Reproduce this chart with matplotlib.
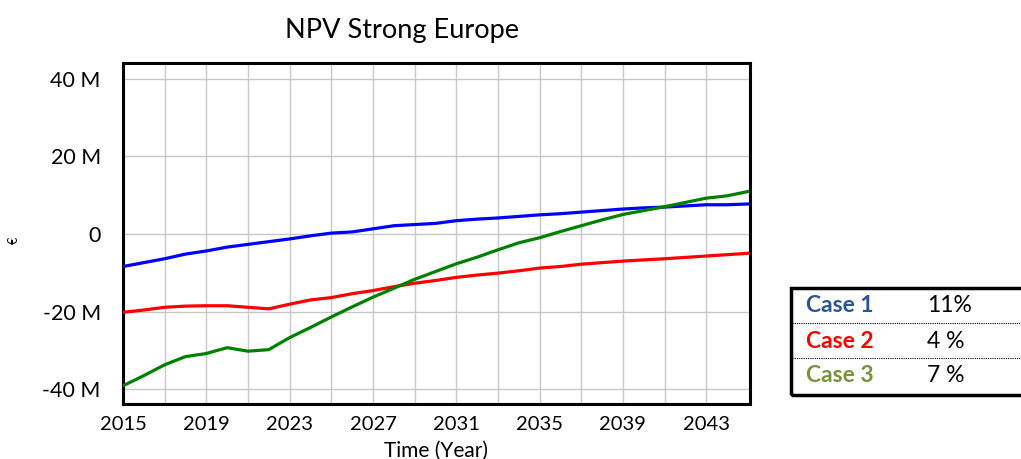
import matplotlib
matplotlib.use("Agg")
import matplotlib.pyplot as plt
from matplotlib.lines import Line2D
from matplotlib.patches import Rectangle
import numpy as np

plt.rcParams['font.family'] = ['Lato', 'DejaVu Sans']

years = list(range(2015, 2046))
case1 = [-8.4, -7.4, -6.4, -5.2, -4.4, -3.4, -2.7, -2.0, -1.3, -0.5, 0.2, 0.5, 1.3, 2.1, 2.4, 2.7,
         3.4, 3.8, 4.1, 4.5, 4.9, 5.2, 5.6, 6.0, 6.4, 6.7, 6.9, 7.2, 7.5, 7.5, 7.7]
case2 = [-20.2, -19.6, -18.9, -18.6, -18.5, -18.5, -18.9, -19.3, -18.1, -17.0, -16.4, -15.4, -14.6,
         -13.6, -12.7, -12.0, -11.2, -10.6, -10.1, -9.5, -8.8, -8.4, -7.8, -7.4, -7.0, -6.7, -6.4,
         -6.05, -5.7, -5.35, -5.0]
case3 = [-39.1, -36.5, -33.7, -31.6, -30.8, -29.3, -30.2, -29.8, -26.7, -24.1, -21.4, -18.8, -16.3,
         -14.0, -11.7, -9.7, -7.7, -6.0, -4.1, -2.3, -1.0, 0.6, 2.1, 3.6, 5.0, 6.0, 7.0, 8.1, 9.2,
         9.8, 10.9]
yticks = [-40, -20, 0, 20, 40]
ytick_labels = ['-40 M', '-20 M', '0', '20 M', '40 M']
xticks = [2015, 2019, 2023, 2027, 2031, 2035, 2039, 2043]

table_cases = ['Case 1', 'Case 2', 'Case 3']
table_values = ['11%', '4 %', '7 %']
table_colors = ['#2B5592', '#FF0000', '#77933C']

fig = plt.figure(figsize=(10.21, 4.59), dpi=100)
ax = fig.add_axes([123/1021, 1-404/459, (750-123)/1021, (404-63)/459])

ax.plot(years, case1, color='#0000FF', lw=2.3, zorder=3)
ax.plot(years, case2, color='#FF0000', lw=2.3, zorder=3)
ax.plot(years, case3, color='#008000', lw=2.3, zorder=3)

ax.set_xlim(2015, 2045.1)
ax.set_ylim(-43.8, 44.0)
ax.set_yticks(yticks)
ax.set_yticklabels(ytick_labels)
ax.set_xticks(xticks)
ax.set_xticks(list(range(2017, 2045, 2)), minor=True)
ax.tick_params(axis='both', which='both', length=0, labelsize=14.5)
ax.tick_params(axis='y', pad=16, labelsize=15.5)
ax.tick_params(axis='x', pad=9)
ax.grid(True, which='both', color='#C8C8C8', lw=1.0)
ax.set_axisbelow(True)
for s in ax.spines.values():
    s.set_linewidth(2.2)
    s.set_color('black')

def fx(px):
    return px / 1021
def fy(py):
    return 1 - py / 459

fig.text(fx(402), fy(38), 'NPV Strong Europe', fontsize=19.5, ha='center', va='baseline')
fig.text(fx(436), fy(441), 'Time (Year)', fontsize=15, ha='center', va='top')
fig.text(fx(14), fy(240), '€', fontsize=9, ha='center', va='center', rotation=90)

# table box
fig.add_artist(Rectangle((fx(791), fy(395)), fx(1040) - fx(791), fy(288) - fy(395),
                         transform=fig.transFigure, fill=False, lw=2.5, edgecolor='black'))
for yy in [322.5, 357.5]:
    fig.add_artist(Line2D([fx(792), fx(1021)], [fy(yy), fy(yy)], transform=fig.transFigure,
                          color='black', lw=0.8, linestyle=(0, (1, 1))))
row_centers = [306, 341, 376]
for name, val, col, yc in zip(table_cases, table_values, table_colors, row_centers):
    fig.text(fx(806), fy(yc), name, color=col, fontsize=16.5, fontweight='bold', va='center', ha='left')
    fig.text(fx(927), fy(yc), val, color='black', fontsize=16.5, va='center', ha='left')

fig.savefig('out.png', dpi=100)
